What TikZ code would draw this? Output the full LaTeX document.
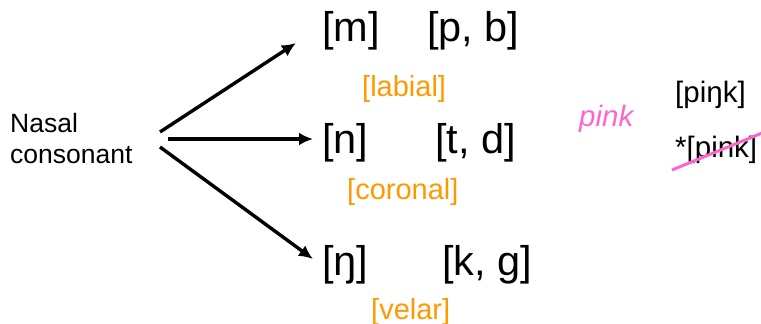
\documentclass[tikz,border=0pt]{standalone}
\usepackage{fontspec}
\setmainfont{Liberation Sans}
\usetikzlibrary{arrows.meta}
\definecolor{featorange}{RGB}{255,153,0}
\definecolor{pinkish}{RGB}{255,102,204}
\begin{document}
\begin{tikzpicture}[x=1pt,y=-1pt,
  txt/.style={inner sep=0pt,anchor=base west},
  big/.style={txt,font=\fontsize{41.5}{48}\selectfont},
  feat/.style={txt,font=\fontsize{29}{34}\selectfont,text=featorange},
  small/.style={txt,font=\fontsize{29.5}{34}\selectfont},
  arr/.style={line width=3.4pt,-{Latex[length=14pt,width=13pt]}}]
\useasboundingbox (0,0) rectangle (761,324);
% source
\node[txt,font=\fontsize{26.5}{31}\selectfont] (nasal) at (10,132) {Nasal};
\node[txt,font=\fontsize{26.5}{31}\selectfont] (cons) at (10,163) {consonant};
% rows
\node[big] (m) at (322,41.5) {[m]};
\node[big] (pb) at (427,41.5) {[p, b]};
\node[feat] (lab) at (362,96) {[labial]};
\node[big] (n) at (322,153.5) {[n]};
\node[big] (td) at (435,153.5) {[t, d]};
\node[feat] (cor) at (347,199) {[coronal]};
\node[big] (ng) at (322,275) {[ŋ]};
\node[big] (kg) at (442,275) {[k, g]};
\node[feat] (vel) at (371,319) {[velar]};
% pink
\node[txt,font=\fontsize{29.5}{34}\selectfont\itshape,text=pinkish] (pink) at (579,126.5) {pink};
\node[small] (good) at (675,102) {[piŋk]};
\node[small] (bad) at (675,157.5) {*[pink]};
% arrows
\coordinate (s1) at (160,132);
\coordinate (s2) at (168,139);
\coordinate (s3) at (160,147);
\coordinate (e1) at (296,43);
\coordinate (e2) at (313,139);
\coordinate (e3) at (313,259);
\draw[arr] (s1) -- (e1);
\draw[arr] (s2) -- (e2);
\draw[arr] (s3) -- (e3);
% strike
\coordinate (k1) at (672,170);
\coordinate (k2) at (762,133);
\draw[pinkish,line width=3pt] (k1) -- (k2);
\end{tikzpicture}
\end{document}
